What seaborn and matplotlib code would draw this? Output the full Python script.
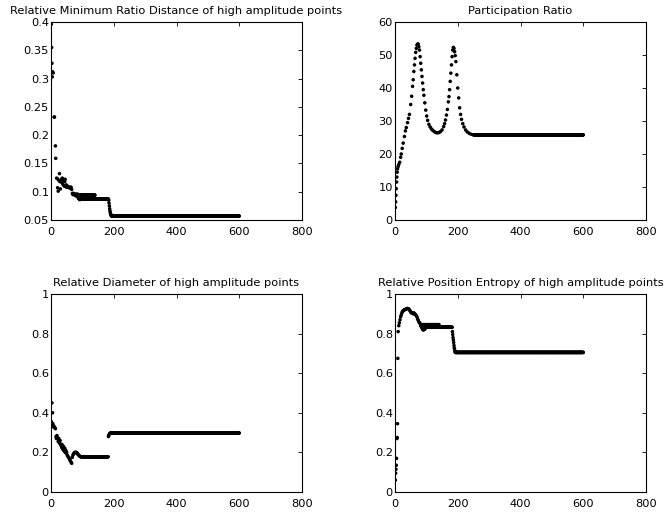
import numpy as np
import pandas as pd
import matplotlib
matplotlib.use("Agg")
import matplotlib.pyplot as plt
import seaborn as sns

# ---------------- data ----------------
# Panel 1: Relative Minimum Ratio Distance
mrd_x = [1, 2, 3, 4, 5, 7, 10, 11, 14, 15, 18, 20, 21, 23, 25, 27, 28, 30, 31, 33,
         35, 36, 38, 40, 42, 44, 45, 47, 49, 50, 52, 54, 56, 58, 60, 62, 64, 66, 68, 70,
         72, 74, 76, 78, 80, 82, 84, 86, 88, 90, 92, 94, 96, 98,
         184, 185, 186, 187, 188, 189, 190, 191, 192]
mrd_y = [0.396, 0.355, 0.327, 0.303, 0.312, 0.310, 0.232, 0.232, 0.181, 0.159, 0.124, 0.123,
         0.107, 0.101, 0.120, 0.132, 0.118, 0.105, 0.118, 0.122, 0.116, 0.124, 0.113, 0.121,
         0.110, 0.118, 0.122, 0.109, 0.112, 0.108, 0.110, 0.108, 0.108, 0.107, 0.108, 0.106,
         0.108, 0.104, 0.097, 0.095, 0.097, 0.095, 0.094, 0.096, 0.093, 0.092, 0.096, 0.090,
         0.088, 0.087, 0.086, 0.089, 0.090, 0.091,
         0.085, 0.080, 0.075, 0.070, 0.066, 0.063, 0.061, 0.059, 0.058]
mrd_plateaus = [(82, 140, 0.094), (97, 183, 0.087), (193, 600, 0.057)]

# Panel 2: Participation Ratio
pr_x = [1, 2, 3, 4, 5, 6, 7, 8, 10, 12, 15, 18, 20, 23, 26, 30, 33, 36, 40, 43, 46, 50,
        53, 56, 58, 60, 62, 64, 66, 68, 70, 72, 74, 76, 78, 80, 82, 84, 86, 88, 90, 92,
        95, 98, 101, 104, 108, 112, 116, 120, 125, 130, 135, 140, 145, 150, 155, 158,
        161, 164, 167, 170, 172, 174, 176, 178, 180, 182, 184, 186, 188, 190, 192, 194,
        197, 200, 203, 206, 209, 212, 216, 220, 225, 230, 236, 242, 250]
pr_y = [3.8, 5.5, 7.5, 9.5, 11.5, 13.0, 14.5, 15.5, 16.2, 16.8, 17.5, 19.0, 20.0, 21.7,
        23.3, 25.3, 27.0, 28.0, 29.5, 30.8, 32.0, 35.0, 37.5, 40.5, 42.5, 45.0, 47.0, 49.0,
        50.8, 52.0, 53.0, 53.3, 53.3, 52.5, 51.5, 49.5, 47.5, 45.5, 43.5, 41.5, 39.5, 37.8,
        35.5, 33.3, 31.5, 30.2, 29.0, 28.2, 27.6, 27.2, 26.8, 26.5, 26.4, 26.5, 26.8, 27.3,
        28.3, 29.2, 30.3, 31.8, 33.5, 35.8, 37.4, 39.5, 42.0, 44.5, 47.0, 49.5, 51.5, 52.3,
        52.0, 51.0, 49.8, 48.0, 44.0, 40.0, 37.0, 34.0, 32.0, 30.5, 29.2, 28.2, 27.3, 26.7,
        26.3, 26.0, 25.8]
pr_plateaus = [(251, 600, 25.8)]

# Panel 3: Relative Diameter
dia_x = [1, 2, 3, 4, 5, 6, 8, 10, 12, 14, 16, 17, 19, 20, 22, 23, 25, 26, 28, 29, 31, 32,
         34, 35, 37, 38, 40, 41, 43, 44, 46, 47, 49, 50, 52, 54, 56, 58, 60, 62, 64, 66,
         68, 70, 72, 74, 76, 78, 80, 82, 84, 86, 88, 90, 92, 95,
         183, 184, 185, 187, 189]
dia_y = [0.355, 0.340, 0.450, 0.330, 0.400, 0.345, 0.335, 0.330, 0.325, 0.320, 0.280,
         0.270, 0.285, 0.275, 0.270, 0.255, 0.270, 0.250, 0.245, 0.260, 0.240, 0.235, 0.225,
         0.240, 0.220, 0.215, 0.230, 0.210, 0.205, 0.220, 0.200, 0.210, 0.195, 0.200, 0.185,
         0.180, 0.175, 0.170, 0.162, 0.157, 0.150, 0.145, 0.175, 0.187, 0.193, 0.197, 0.200,
         0.200, 0.200, 0.198, 0.195, 0.190, 0.187, 0.184, 0.180, 0.178,
         0.280, 0.285, 0.290, 0.295, 0.297]
dia_plateaus = [(96, 182, 0.178), (190, 600, 0.298)]

# Panel 4: Relative Position Entropy
ent_x = [1, 2, 3, 4, 5, 6, 7, 8, 9, 10, 12, 14, 16, 18, 20, 22, 24, 26, 28, 30, 33, 36, 39,
         42, 44, 46, 48, 50, 52, 54, 56, 58, 60, 62, 64, 66, 68, 70, 72, 74, 76, 78, 80, 82,
         84, 86, 88, 90, 92, 94, 96,
         183, 184, 185, 186, 187, 188, 189, 190, 191]
ent_y = [0.060, 0.095, 0.115, 0.135, 0.170, 0.270, 0.275, 0.345, 0.675, 0.810, 0.840,
         0.855, 0.870, 0.885, 0.895, 0.905, 0.912, 0.915, 0.918, 0.920, 0.922, 0.925, 0.927,
         0.926, 0.924, 0.920, 0.915, 0.910, 0.905, 0.905, 0.903, 0.900, 0.905, 0.900, 0.898,
         0.895, 0.890, 0.885, 0.875, 0.867, 0.860, 0.855, 0.850, 0.840, 0.835, 0.828, 0.822,
         0.818, 0.820, 0.822, 0.825,
         0.810, 0.795, 0.780, 0.768, 0.755, 0.740, 0.728, 0.720, 0.710]
ent_plateaus = [(82, 140, 0.845), (97, 182, 0.832), (192, 600, 0.705)]

titles = ["Relative Minimum Ratio Distance of high amplitude points",
          "Participation Ratio",
          "Relative Diameter of high amplitude points",
          "Relative Position Entropy of high amplitude points"]
x_ticks = [0, 200, 400, 600, 800]
y_ticks = [[0.05, 0.1, 0.15, 0.2, 0.25, 0.3, 0.35, 0.4],
           [0, 10, 20, 30, 40, 50, 60],
           [0, 0.2, 0.4, 0.6, 0.8, 1],
           [0, 0.2, 0.4, 0.6, 0.8, 1]]
y_tick_labels = [["0.05", "0.1", "0.15", "0.2", "0.25", "0.3", "0.35", "0.4"],
                 ["0", "10", "20", "30", "40", "50", "60"],
                 ["0", "0.2", "0.4", "0.6", "0.8", "1"],
                 ["0", "0.2", "0.4", "0.6", "0.8", "1"]]


def build(xs, ys, plateaus):
    parts = [pd.DataFrame({"x": xs, "y": ys})]
    for x0, x1, v in plateaus:
        px = np.arange(x0, x1 + 1)
        parts.append(pd.DataFrame({"x": px, "y": np.full(len(px), v)}))
    return pd.concat(parts, ignore_index=True)


frames = [build(mrd_x, mrd_y, mrd_plateaus),
          build(pr_x, pr_y, pr_plateaus),
          build(dia_x, dia_y, dia_plateaus),
          build(ent_x, ent_y, ent_plateaus)]

# ---------------- drawing ----------------
sns.set_theme(style="white")
plt.rcParams["font.family"] = ["DejaVu Sans"]

W, H = 668, 515
fig = plt.figure(figsize=(W / 100, H / 100), dpi=100)
boxes = [(51, 22), (395, 22), (51, 294), (395, 294)]
aw, ah = 251, 198
FS = 8.2

for i, (df, (lx, ty)) in enumerate(zip(frames, boxes)):
    ax = fig.add_axes([lx / W, 1 - (ty + ah) / H, aw / W, ah / H])
    sns.scatterplot(data=df, x="x", y="y", ax=ax, color="black", s=6.5,
                    edgecolor="none", linewidth=0, legend=False)
    ax.set_xlim(0, 800)
    ax.set_ylim(y_ticks[i][0], y_ticks[i][-1])
    ax.set_xticks(x_ticks)
    ax.set_xticklabels([str(t) for t in x_ticks])
    ax.set_yticks(y_ticks[i])
    ax.set_yticklabels(y_tick_labels[i])
    ax.set_xlabel("")
    ax.set_ylabel("")
    ax.set_title(titles[i], fontsize=FS, pad=6.0, color="black")
    ax.tick_params(direction="in", length=3, width=0.6, top=True, right=True,
                   labelsize=FS, colors="black")
    ax.tick_params(axis="x", pad=5)
    ax.tick_params(axis="y", pad=1.5)
    for sp in ax.spines.values():
        sp.set_color("black")
        sp.set_linewidth(0.8)

fig.savefig("out.png", dpi=100, facecolor="white")
